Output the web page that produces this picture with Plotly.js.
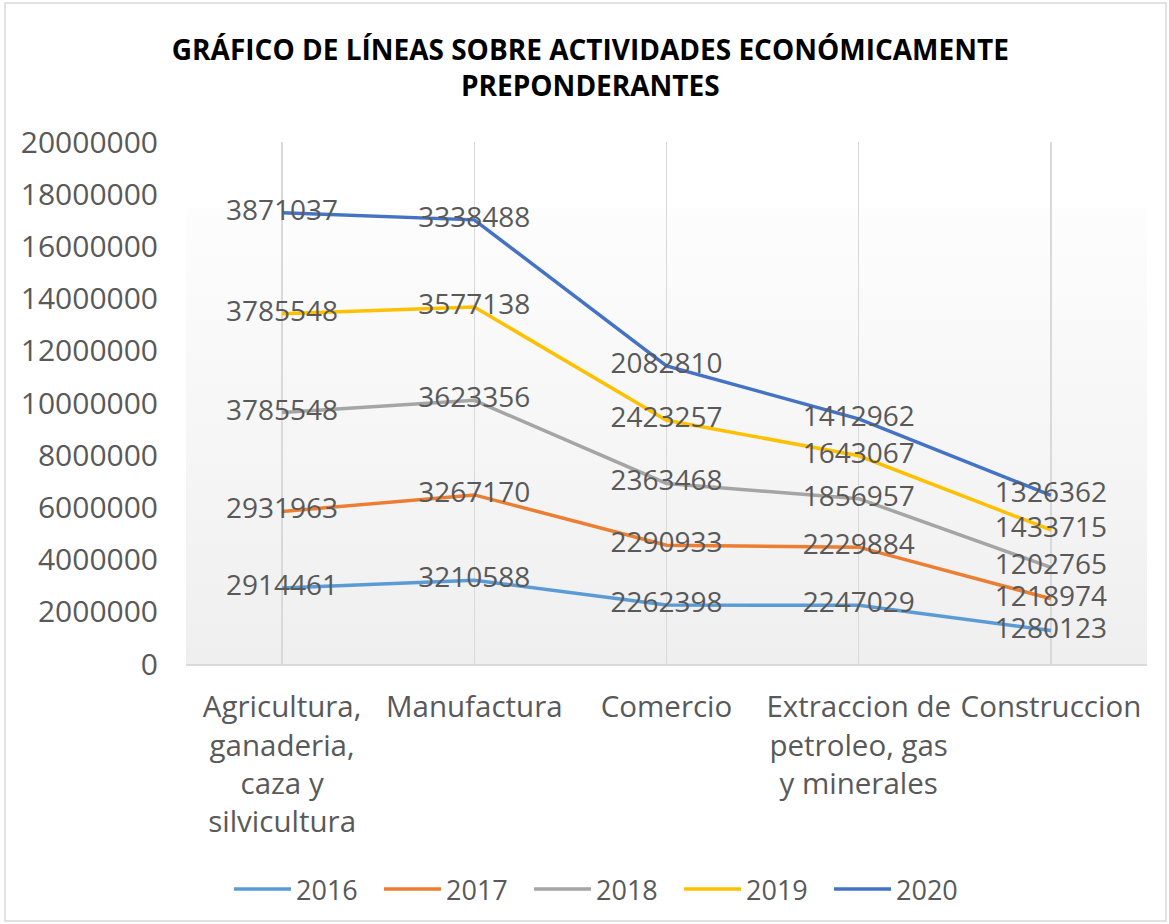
<!DOCTYPE html>
<html>
<head>
<meta charset="utf-8">
<script src="https://cdn.plot.ly/plotly-3.0.1.min.js"></script>
<style>html,body{margin:0;padding:0;background:#fff;}#chart{width:1169px;height:924px;}</style>
</head>
<body>
<div id="chart"></div>
<script>
const categories = [
  "Agricultura,<br>ganaderia,<br>caza y<br>silvicultura",
  "Manufactura",
  "Comercio",
  "Extraccion de<br>petroleo, gas<br>y minerales",
  "Construccion"
];
const years = ["2016", "2017", "2018", "2019", "2020"];
const v2016 = [2914461, 3210588, 2262398, 2247029, 1280123];
const v2017 = [2931963, 3267170, 2290933, 2229884, 1218974];
const v2018 = [3785548, 3623356, 2363468, 1856957, 1202765];
const v2019 = [3785548, 3577138, 2423257, 1643067, 1433715];
const v2020 = [3871037, 3338488, 2082810, 1412962, 1326362];
const colors = ["#5B9BD5", "#ED7D31", "#A5A5A5", "#FFC000", "#4472C4"];
const yTicks = [0, 2000000, 4000000, 6000000, 8000000, 10000000, 12000000, 14000000, 16000000, 18000000, 20000000];

const series = [v2016, v2017, v2018, v2019, v2020];
const traces = series.map((vals, i) => ({
  type: "scatter",
  mode: "lines+text",
  name: years[i],
  x: categories,
  y: vals,
  stackgroup: "one",
  fill: "none",
  text: vals.map(v => String(v)),
  textposition: "middle center",
  textfont: {family: "Open Sans, sans-serif", size: 28, color: "#595959"},
  line: {color: colors[i], width: 3.5},
  hoverinfo: "skip"
}));

const grad = '<svg xmlns="http://www.w3.org/2000/svg" width="100" height="100" preserveAspectRatio="none"><defs><linearGradient id="g" x1="0" y1="0" x2="0" y2="1"><stop offset="0" stop-color="#fdfdfd"/><stop offset="1" stop-color="#efefef"/></linearGradient></defs><rect width="100" height="100" fill="url(#g)"/></svg>';

const pw = 1169 - 186 - 22, ph = 924 - 142 - 260;

const layout = {
  width: 1169,
  height: 924,
  paper_bgcolor: "#ffffff",
  plot_bgcolor: "rgba(0,0,0,0)",
  margin: {l: 186, r: 22, t: 142, b: 260, autoexpand: false},
  title: {
    text: "<b>GRÁFICO DE LÍNEAS SOBRE ACTIVIDADES ECONÓMICAMENTE<br>PREPONDERANTES</b>",
    font: {family: "Open Sans, sans-serif", size: 28, color: "#000000"},
    x: 0.505, xanchor: "center", xref: "container", yref: "container",
    y: 1 - 59.5 / 924, yanchor: "middle"
  },
  showlegend: true,
  legend: {
    orientation: "h", x: 0.435, xanchor: "center", y: -0.385, yanchor: "top",
    font: {family: "Open Sans, sans-serif", size: 27, color: "#595959"},
    entrywidth: 78, entrywidthmode: "pixels", itemwidth: 57
  },
  xaxis: {
    type: "category",
    range: [-0.5, 4.5],
    showgrid: true, gridcolor: "#d9d9d9", gridwidth: 1.5,
    showline: true, linecolor: "#d9d9d9", linewidth: 2,
    ticks: "outside", ticklen: 16, tickcolor: "rgba(0,0,0,0)",
    tickfont: {family: "Open Sans, sans-serif", size: 29.5, color: "#595959"},
    fixedrange: true
  },
  yaxis: {
    range: [0, 20000000],
    tickvals: yTicks,
    ticktext: yTicks.map(v => String(v)),
    showgrid: false, zeroline: false, showline: false,
    ticks: "outside", ticklen: 21, tickcolor: "rgba(0,0,0,0)",
    tickfont: {family: "Open Sans, sans-serif", size: 30, color: "#595959"},
    fixedrange: true
  },
  images: [{
    source: "data:image/svg+xml;charset=utf-8," + encodeURIComponent(grad),
    xref: "paper", yref: "paper", x: 0, y: 0.8736, sizex: 1, sizey: 0.8736,
    xanchor: "left", yanchor: "top", sizing: "stretch", layer: "below"
  }],
  shapes: [{
    type: "rect", xref: "paper", yref: "paper",
    x0: (5 - 186) / pw, x1: (1166 - 186) / pw,
    y0: (924 - 260 - 921) / ph, y1: (924 - 260 - 3) / ph,
    line: {color: "#d9d9d9", width: 1.5}, fillcolor: "rgba(0,0,0,0)", layer: "below"
  }]
};

Plotly.newPlot("chart", traces, layout, {displayModeBar: false, staticPlot: true});
</script>
</body>
</html>
